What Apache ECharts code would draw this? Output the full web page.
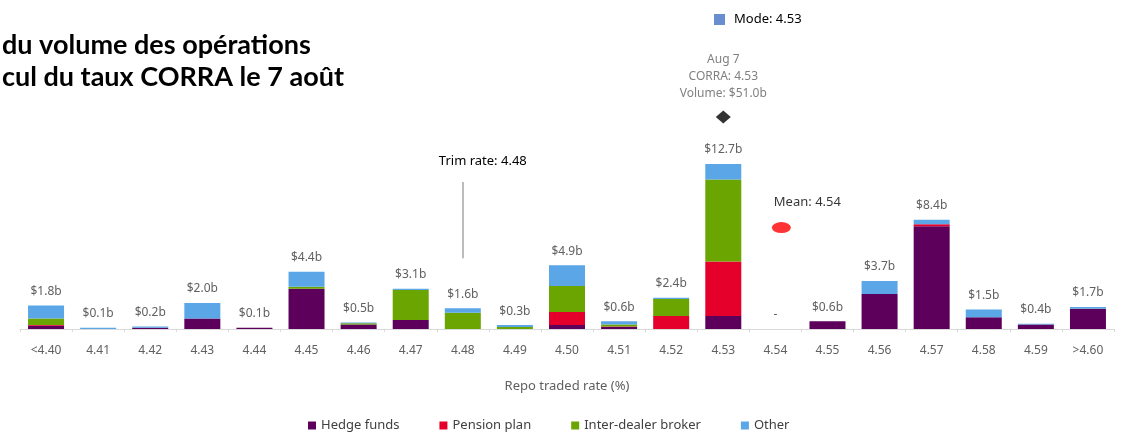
<!DOCTYPE html>
<html>
<head>
<meta charset="utf-8">
<script src="https://cdn.jsdelivr.net/npm/echarts@6/dist/echarts.min.js"></script>
<style>
html, body { margin: 0; padding: 0; background: #fff; }
#box { width: 1127px; height: 434px; }
</style>
</head>
<body>
<div id="box"></div>
<script>
var mychart = echarts.init(document.getElementById("box"));

var rates = ['<4.40', '4.41', '4.42', '4.43', '4.44', '4.45', '4.46', '4.47', '4.48', '4.49', '4.50',
    '4.51', '4.52', '4.53', '4.54', '4.55', '4.56', '4.57', '4.58', '4.59', '>4.60'];
var hedgeFunds = [0.25, 0, 0.1, 0.8, 0.1, 3.1, 0.35, 0.7, 0, 0, 0.3, 0.15, 0, 1.0, 0, 0.6, 2.7, 7.9, 0.9, 0.35, 1.55];
var pensionPlan = [0.05, 0, 0, 0, 0, 0, 0, 0, 0, 0, 1.0, 0.05, 1.0, 4.2, 0, 0, 0, 0.15, 0, 0, 0];
var interDealer = [0.5, 0, 0, 0, 0, 0.15, 0.1, 2.3, 1.25, 0.15, 2.0, 0.15, 1.3, 6.3, 0, 0, 0, 0, 0, 0, 0];
var other = [1.0, 0.1, 0.1, 1.2, 0, 1.15, 0.05, 0.1, 0.35, 0.15, 1.6, 0.25, 0.1, 1.2, 0, 0, 1.0, 0.35, 0.6, 0.05, 0.15];
var totals = [1.8, 0.1, 0.2, 2.0, 0.1, 4.4, 0.5, 3.1, 1.6, 0.3, 4.9, 0.6, 2.4, 12.7, 0, 0.6, 3.7, 8.4, 1.5, 0.4, 1.7];

// annotations
var corraPoint = ['4.53', 16.3];
var meanPoint = ['4.54', 7.8];
var trimLine = ['4.48', 5.45, 11.3];

var greyText = '#606060';

var options = {
    animation: false,
    title: [{
        left: -3,
        top: 24,
        text: 'du volume des opérations\ncul du taux CORRA le 7 août',
        textStyle: {
            fontFamily: 'Lato',
            fontWeight: 'bold',
            fontSize: 27,
            lineHeight: 32,
            color: '#000'
        }
    }],
    grid: {
        left: 20,
        right: 13,
        top: 69,
        bottom: 105
    },
    legend: [{
        bottom: -3,
        left: 303,
        icon: 'rect',
        itemWidth: 8,
        itemHeight: 8,
        itemGap: 40,
        textStyle: { color: '#404040', fontSize: 13, fontFamily: 'Noto Sans' },
        data: ['Hedge funds', 'Pension plan', 'Inter-dealer broker', 'Other']
    }, {
        left: 709,
        top: 8,
        icon: 'rect',
        itemWidth: 11,
        itemHeight: 11,
        textStyle: { color: '#000', fontSize: 13, fontFamily: 'Noto Sans', padding: [0, 0, 0, 4] },
        data: ['Mode: 4.53']
    }],
    xAxis: {
        type: 'category',
        data: rates,
        name: 'Repo traded rate (%)',
        nameLocation: 'middle',
        nameGap: 51,
        nameTextStyle: { color: greyText, fontSize: 13, fontFamily: 'Noto Sans' },
        axisLine: { lineStyle: { color: '#d9d9d9' } },
        axisTick: { show: true, length: 3, lineStyle: { color: '#d9d9d9' } },
        axisLabel: { color: greyText, fontSize: 12, margin: 16, fontFamily: 'Noto Sans' }
    },
    yAxis: {
        type: 'value',
        min: 0,
        max: 20,
        show: false
    },
    series: [{
        name: 'Hedge funds',
        type: 'bar',
        stack: 'vol',
        barWidth: 36,
        barGap: '-100%',
        itemStyle: { color: '#5c005c' },
        data: hedgeFunds
    }, {
        name: 'Pension plan',
        type: 'bar',
        stack: 'vol',
        itemStyle: { color: '#e4002b' },
        data: pensionPlan
    }, {
        name: 'Inter-dealer broker',
        type: 'bar',
        stack: 'vol',
        itemStyle: { color: '#6aa501' },
        data: interDealer
    }, {
        name: 'Other',
        type: 'bar',
        stack: 'vol',
        itemStyle: { color: '#5aa6e6' },
        data: other
    }, {
        name: 'total',
        type: 'bar',
        barWidth: 36,
        barGap: '-100%',
        z: 1,
        itemStyle: { color: 'rgba(0,0,0,0)' },
        label: {
            show: true,
            position: 'top',
            distance: 8,
            color: greyText,
            fontSize: 12,
            fontFamily: 'Noto Sans',
            formatter: function (p) {
                return p.value === 0 ? '-' : '$' + p.value.toFixed(1) + 'b';
            }
        },
        markLine: {
            symbol: 'none',
            silent: true,
            lineStyle: { color: '#a6a6a6', type: 'solid', width: 1.5 },
            label: {
                show: true,
                position: 'end',
                distance: 14,
                offset: [20, 0],
                color: '#000',
                fontSize: 13,
                fontFamily: 'Noto Sans',
                formatter: 'Trim rate: 4.48'
            },
            data: [[
                { xAxis: trimLine[0], yAxis: trimLine[1] },
                { xAxis: trimLine[0], yAxis: trimLine[2] }
            ]]
        },
        data: totals
    }, {
        name: 'corra',
        type: 'scatter',
        symbol: 'diamond',
        symbolSize: [15, 13],
        itemStyle: { color: '#000' },
        label: {
            show: true,
            position: 'top',
            distance: 9,
            color: greyText,
            fontSize: 12,
            lineHeight: 17,
            fontFamily: 'Noto Sans',
            formatter: 'Aug 7\nCORRA: 4.53\nVolume: $51.0b'
        },
        data: [corraPoint]
    }, {
        name: 'mean',
        type: 'scatter',
        symbol: 'circle',
        symbolSize: [19, 11],
        symbolOffset: [6, 0],
        itemStyle: { color: '#ff0000' },
        label: {
            show: true,
            position: 'top',
            distance: 13,
            offset: [26, 0],
            color: '#000',
            fontSize: 13,
            fontFamily: 'Noto Sans',
            formatter: 'Mean: 4.54'
        },
        data: [meanPoint]
    }, {
        name: 'Mode: 4.53',
        type: 'scatter',
        itemStyle: { color: '#4472c4' },
        data: []
    }]
};

mychart.setOption(options);
</script>
</body>
</html>
